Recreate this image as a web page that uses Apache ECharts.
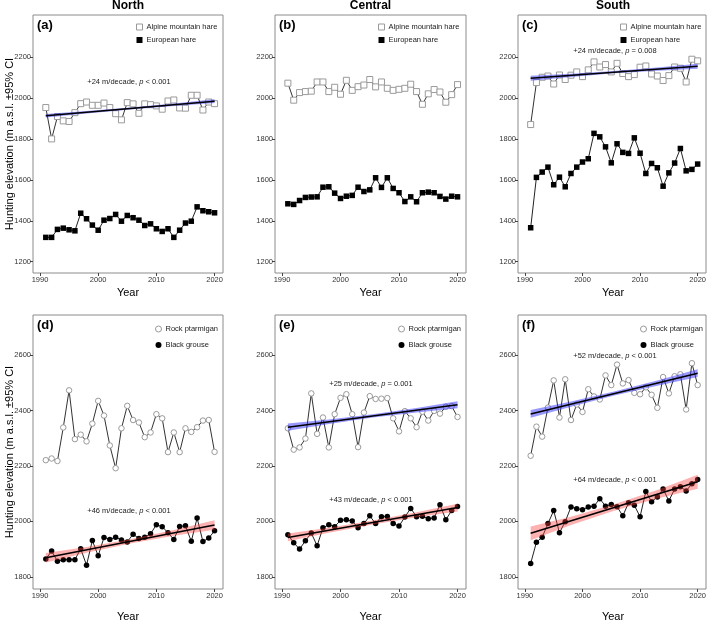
<!DOCTYPE html>
<html>
<head>
<meta charset="utf-8">
<script src="https://cdn.jsdelivr.net/npm/echarts@6/dist/echarts.min.js"></script>
<style>
  html, body { margin: 0; padding: 0; background: #fff; }
  #main { width: 709px; height: 621px; }
</style>
</head>
<body>
<div id="main"></div>
<script>
// years + tick labels
var years = [1991,1992,1993,1994,1995,1996,1997,1998,1999,2000,2001,2002,2003,2004,2005,2006,2007,2008,2009,2010,2011,2012,2013,2014,2015,2016,2017,2018,2019,2020];
var xTicks = [1990, 2000, 2010, 2020];
var yTicksHare = [1200, 1400, 1600, 1800, 2000, 2200];
var yTicksBird = [1800, 2000, 2200, 2400, 2600];

// hares (top row)
var alpineNorth = [1953,1800,1909,1888,1885,1928,1972,1980,1964,1964,1975,1953,1923,1893,1977,1971,1925,1971,1967,1961,1945,1985,1990,1951,1950,2013,2013,1941,1980,1972];
var europeanNorth = [1319,1319,1358,1364,1356,1351,1437,1410,1379,1354,1403,1411,1431,1398,1426,1415,1403,1377,1385,1361,1348,1361,1319,1354,1389,1398,1468,1449,1444,1439];
var alpineCentral = [2072,1989,2026,2031,2033,2078,2078,2031,2052,2018,2086,2037,2055,2063,2090,2054,2078,2047,2037,2042,2047,2067,2031,1969,2020,2041,2029,1979,2016,2065];
var europeanCentral = [1483,1480,1499,1514,1516,1517,1564,1566,1535,1509,1520,1524,1564,1543,1551,1610,1563,1610,1558,1537,1494,1517,1493,1537,1540,1537,1519,1506,1520,1517];
var alpineSouth = [1870,2075,2101,2107,2068,2112,2090,2111,2127,2104,2137,2176,2151,2163,2127,2169,2119,2104,2114,2150,2156,2117,2107,2085,2109,2151,2145,2078,2189,2181];
var europeanSouth = [1366,1612,1638,1662,1576,1613,1566,1631,1662,1687,1703,1827,1810,1761,1683,1776,1734,1729,1805,1730,1631,1680,1659,1569,1634,1682,1753,1644,1651,1677];

// grouse (bottom row)
var ptarmiganNorth = [2221,2227,2218,2339,2473,2297,2313,2289,2353,2435,2382,2274,2192,2336,2417,2366,2357,2304,2321,2387,2372,2250,2321,2250,2336,2323,2340,2364,2366,2251];
var grouseNorth = [1864,1893,1856,1862,1862,1862,1901,1842,1931,1876,1942,1935,1943,1933,1926,1954,1938,1943,1955,1988,1981,1959,1935,1982,1984,1928,2012,1927,1940,1966];
var ptarmiganCentral = [2336,2259,2267,2299,2462,2316,2375,2267,2387,2446,2459,2387,2268,2393,2452,2442,2443,2445,2372,2325,2398,2372,2340,2396,2364,2399,2389,2414,2416,2377];
var grouseCentral = [1952,1923,1900,1930,1958,1912,1977,1988,1981,2004,2006,2001,1977,1992,2020,1992,2017,2018,1992,1983,2016,2047,2017,2019,2010,2012,2060,2006,2039,2054];
var ptarmiganSouth = [2237,2342,2306,2411,2509,2375,2513,2366,2422,2395,2477,2451,2440,2527,2492,2566,2498,2510,2464,2459,2484,2457,2410,2521,2462,2524,2531,2404,2571,2492];
var grouseSouth = [1848,1925,1943,1992,2039,1959,1999,2052,2046,2042,2052,2055,2082,2055,2061,2053,2020,2067,2058,2017,2108,2071,2088,2117,2074,2117,2125,2110,2136,2151];

// fitted trends (start/end) and 95% CI band
var trendYears = [1991, 2020];
var bandYears = [1991, 1998, 2005.5, 2013, 2020];

var trendAlpineNorth = [1913, 1984];
var loAlpineNorth = [1904, 1924, 1944, 1961, 1975];
var hiAlpineNorth = [1922, 1936, 1953, 1973, 1993];

var trendAlpineSouth = [2096, 2155];
var loAlpineSouth = [2084, 2102, 2120, 2133, 2143];
var hiAlpineSouth = [2108, 2118, 2131, 2149, 2167];

var trendGrouseNorth = [1869, 1987];
var loGrouseNorth = [1852, 1887, 1920, 1948, 1970];
var hiGrouseNorth = [1886, 1908, 1936, 1969, 2004];

var trendPtarmCentral = [2340, 2421];
var loPtarmCentral = [2327, 2352, 2375, 2393, 2408];
var hiPtarmCentral = [2353, 2368, 2387, 2409, 2434];

var trendGrouseCentral = [1942, 2050];
var loGrouseCentral = [1928, 1959, 1989, 2015, 2036];
var hiGrouseCentral = [1956, 1977, 2003, 2033, 2064];

var trendPtarmSouth = [2388, 2535];
var loPtarmSouth = [2374, 2414, 2454, 2490, 2521];
var hiPtarmSouth = [2402, 2433, 2469, 2509, 2549];

var trendGrouseSouth = [1957, 2143];
var loGrouseSouth = [1932, 1987, 2038, 2083, 2118];
var hiGrouseSouth = [1982, 2017, 2062, 2113, 2168];

var BLUE = 'rgba(50,50,255,0.5)';
var RED = 'rgba(250,60,60,0.4)';
var FONT = 'Liberation Sans';

var panels = [
  {label: '(a)', hare: true, s1: alpineNorth, s2: europeanNorth, left: 33, top: 15, width: 190, height: 258, legendLeft: 136,
   fits: [{line: trendAlpineNorth, lo: loAlpineNorth, hi: hiAlpineNorth, color: BLUE, text: ['+24 m/decade, ', ' < 0.001'], tx: 129, ty: 82}]},
  {label: '(b)', hare: true, s1: alpineCentral, s2: europeanCentral, left: 275, top: 15, width: 191, height: 258, legendLeft: 378, fits: []},
  {label: '(c)', hare: true, s1: alpineSouth, s2: europeanSouth, left: 518, top: 15, width: 190, height: 258, legendLeft: 620,
   fits: [{line: trendAlpineSouth, lo: loAlpineSouth, hi: hiAlpineSouth, color: BLUE, text: ['+24 m/decade, ', ' = 0.008'], tx: 615, ty: 51}]},
  {label: '(d)', hare: false, s1: ptarmiganNorth, s2: grouseNorth, left: 33, top: 315, width: 190, height: 274, legendLeft: 155,
   fits: [{line: trendGrouseNorth, lo: loGrouseNorth, hi: hiGrouseNorth, color: RED, text: ['+46 m/decade, ', ' < 0.001'], tx: 129, ty: 511}]},
  {label: '(e)', hare: false, s1: ptarmiganCentral, s2: grouseCentral, left: 275, top: 315, width: 191, height: 274, legendLeft: 398,
   fits: [{line: trendPtarmCentral, lo: loPtarmCentral, hi: hiPtarmCentral, color: BLUE, text: ['+25 m/decade, ', ' = 0.001'], tx: 371, ty: 384},
          {line: trendGrouseCentral, lo: loGrouseCentral, hi: hiGrouseCentral, color: RED, text: ['+43 m/decade, ', ' < 0.001'], tx: 371, ty: 500}]},
  {label: '(f)', hare: false, s1: ptarmiganSouth, s2: grouseSouth, left: 518, top: 315, width: 190, height: 274, legendLeft: 640,
   fits: [{line: trendPtarmSouth, lo: loPtarmSouth, hi: hiPtarmSouth, color: BLUE, text: ['+52 m/decade, ', ' < 0.001'], tx: 615, ty: 356},
          {line: trendGrouseSouth, lo: loGrouseSouth, hi: hiGrouseSouth, color: RED, text: ['+64 m/decade, ', ' < 0.001'], tx: 615, ty: 480}]}
];

function pairs(xs, ys) {
  return xs.map(function (x, i) { return [x, ys[i]]; });
}

// CI ribbon: polygon through lower points, back along upper points
function bandRenderer(f) {
  return function (params, api) {
    var pts = [];
    for (var k = 0; k < bandYears.length; k++) pts.push(api.coord([bandYears[k], f.lo[k]]));
    for (var k2 = bandYears.length - 1; k2 >= 0; k2--) pts.push(api.coord([bandYears[k2], f.hi[k2]]));
    return {type: 'polygon', shape: {points: pts}, style: {fill: f.color}};
  };
}

var grid = [], xAxis = [], yAxis = [], series = [], legend = [], graphic = [];
var plain = function (v) { return String(v); };

panels.forEach(function (p, i) {
  grid.push({left: p.left, top: p.top, width: p.width, height: p.height, show: true,
    borderColor: '#8c8c8c', borderWidth: 1, backgroundColor: '#fff'});
  xAxis.push({gridIndex: i, type: 'value', min: 1988.8, max: 2021.45,
    axisLine: {show: false}, splitLine: {show: false},
    axisTick: {show: true, length: 3, lineStyle: {color: '#444'}, customValues: xTicks},
    axisLabel: {color: '#333', fontSize: 7.5, fontFamily: FONT, margin: 3, customValues: xTicks, formatter: plain}});
  var yt = p.hare ? yTicksHare : yTicksBird;
  yAxis.push({gridIndex: i, type: 'value',
    min: p.hare ? 1145 : 1756, max: p.hare ? 2405 : 2745,
    axisLine: {show: false}, splitLine: {show: false},
    axisTick: {show: true, length: 3, lineStyle: {color: '#444'}, customValues: yt},
    axisLabel: {color: '#333', fontSize: 7.5, fontFamily: FONT, margin: 2, customValues: yt, formatter: plain}});

  var n1 = p.hare ? 'Alpine mountain hare' : 'Rock ptarmigan';
  var n2 = p.hare ? 'European hare' : 'Black grouse';
  var sym = p.hare ? 'rect' : 'circle';

  series.push({name: n1, type: 'line', xAxisIndex: i, yAxisIndex: i, data: pairs(years, p.s1),
    symbol: sym, symbolSize: p.hare ? 6 : 5.5, z: 2,
    lineStyle: {color: '#333', width: 1},
    itemStyle: {color: '#fff', borderColor: '#9a9a9a', borderWidth: 1}});
  series.push({name: n2, type: 'line', xAxisIndex: i, yAxisIndex: i, data: pairs(years, p.s2),
    symbol: sym, symbolSize: 5.5, z: 2,
    lineStyle: {color: '#222', width: 1},
    itemStyle: {color: '#000', borderWidth: 0}});

  p.fits.forEach(function (f, j) {
    series.push({name: 'ci' + i + '_' + j, type: 'custom', xAxisIndex: i, yAxisIndex: i, silent: true, z: 3,
      data: [[bandYears[0], f.lo[0]]], renderItem: bandRenderer(f)});
    series.push({name: 'fit' + i + '_' + j, type: 'line', xAxisIndex: i, yAxisIndex: i, silent: true,
      data: pairs(trendYears, f.line), symbol: 'none', lineStyle: {color: '#000', width: 1.6}, z: 4});
    graphic.push({type: 'text', x: f.tx, y: f.ty, z: 10, style: {
      text: '{n|' + f.text[0] + '}{i|p}{n|' + f.text[1] + '}', align: 'center', verticalAlign: 'middle',
      rich: {n: {fontSize: 7.5, fontFamily: FONT, fill: '#222'}, i: {fontSize: 7.5, fontFamily: FONT, fontStyle: 'italic', fill: '#222'}}}});
  });

  legend.push({orient: 'vertical', left: p.legendLeft, top: p.hare ? p.top + 8 : p.top + 10,
    padding: 0, itemWidth: 6, itemHeight: 6, itemGap: p.hare ? 5 : 8,
    selectedMode: false,
    textStyle: {fontSize: 7.5, fontFamily: FONT, color: '#222', padding: [0, 0, 0, -1]},
    data: [
      {name: n1, icon: sym, itemStyle: {color: '#fff', borderColor: '#9a9a9a', borderWidth: 1}},
      {name: n2, icon: sym, itemStyle: {color: '#000', borderWidth: 0}}
    ]});

  graphic.push({type: 'text', x: p.left + 4, y: p.top + 10, z: 10, style: {
    text: p.label, fontSize: 13, fontWeight: 'bold', fontFamily: FONT, fill: '#000', verticalAlign: 'middle'}});
  graphic.push({type: 'text', x: p.left + p.width / 2, y: p.top + p.height + (p.hare ? 20 : 28), z: 10, style: {
    text: 'Year', fontSize: 11, fontFamily: FONT, fill: '#000', align: 'center', verticalAlign: 'middle'}});
});

['North', 'Central', 'South'].forEach(function (t, k) {
  graphic.push({type: 'text', x: panels[k].left + panels[k].width / 2, y: 6, z: 10, style: {
    text: t, fontSize: 12, fontWeight: 'bold', fontFamily: FONT, fill: '#000', align: 'center', verticalAlign: 'middle'}});
});
[144, 452].forEach(function (cy) {
  graphic.push({type: 'text', x: 10, y: cy, rotation: Math.PI / 2, z: 10, style: {
    text: 'Hunting elevation (m a.s.l. \u00b195% CI', fontSize: 11, fontFamily: FONT, fill: '#000',
    align: 'center', verticalAlign: 'middle'}});
});

var chart = echarts.init(document.getElementById('main'), null, {renderer: 'canvas'});
chart.setOption({
  backgroundColor: '#fff',
  animation: false,
  grid: grid,
  xAxis: xAxis,
  yAxis: yAxis,
  legend: legend,
  series: series,
  graphic: graphic
});
</script>
</body>
</html>
